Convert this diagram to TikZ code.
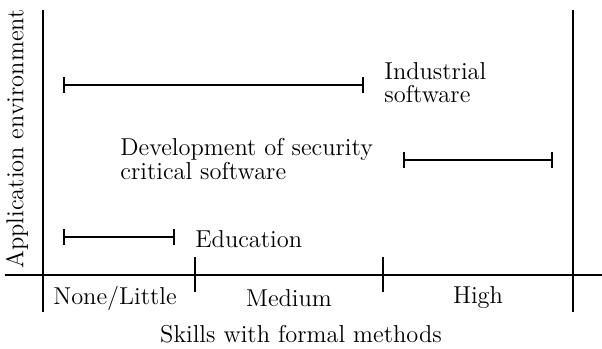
\documentclass[tikz,border=0pt]{standalone}
\begin{document}
\begin{tikzpicture}[x=0.45pt,y=-0.45pt,
  axis/.style={line width=0.9pt},
  bar/.style={line width=0.9pt,|-|},
  every node/.style={font=\fontsize{11}{10.4}\selectfont},
  lbl/.style={inner sep=0pt,align=left}]
\useasboundingbox (0,0) rectangle (602,349);
\coordinate (ytop) at (43,10); \coordinate (ybot) at (43,312);
\coordinate (xl) at (5,275); \coordinate (xr) at (602,275);
\coordinate (rtop) at (573,10); \coordinate (rbot) at (573,312);
\coordinate (t1a) at (195,257); \coordinate (t1b) at (195,292);
\coordinate (t2a) at (383,257); \coordinate (t2b) at (383,292);
\draw[axis] (ytop) -- (ybot);
\draw[axis] (xl) -- (xr);
\draw[axis] (rtop) -- (rbot);
\draw[axis] (t1a) -- (t1b);
\draw[axis] (t2a) -- (t2b);
\coordinate (i1) at (63,85); \coordinate (i2) at (364,85);
\coordinate (s1) at (403,160); \coordinate (s2) at (553,160);
\coordinate (e1) at (63,237); \coordinate (e2) at (175,237);
\draw[bar] (i1) -- (i2);
\draw[bar] (s1) -- (s2);
\draw[bar] (e1) -- (e2);
\node[lbl,anchor=west] (ind) at (384,83) {Industrial\\software};
\node[lbl,anchor=west] (dev) at (120,159) {Development of security\\critical software};
\node[lbl,anchor=west] (edu) at (195,239) {Education};
\node (none) at (115,298) {None/Little};
\node (med) at (289,298) {Medium};
\node (high) at (478,298) {High};
\node (skills) at (301,334) {Skills with formal methods};
\node[rotate=90] (app) at (17,139) {Application environment};
\end{tikzpicture}
\end{document}
